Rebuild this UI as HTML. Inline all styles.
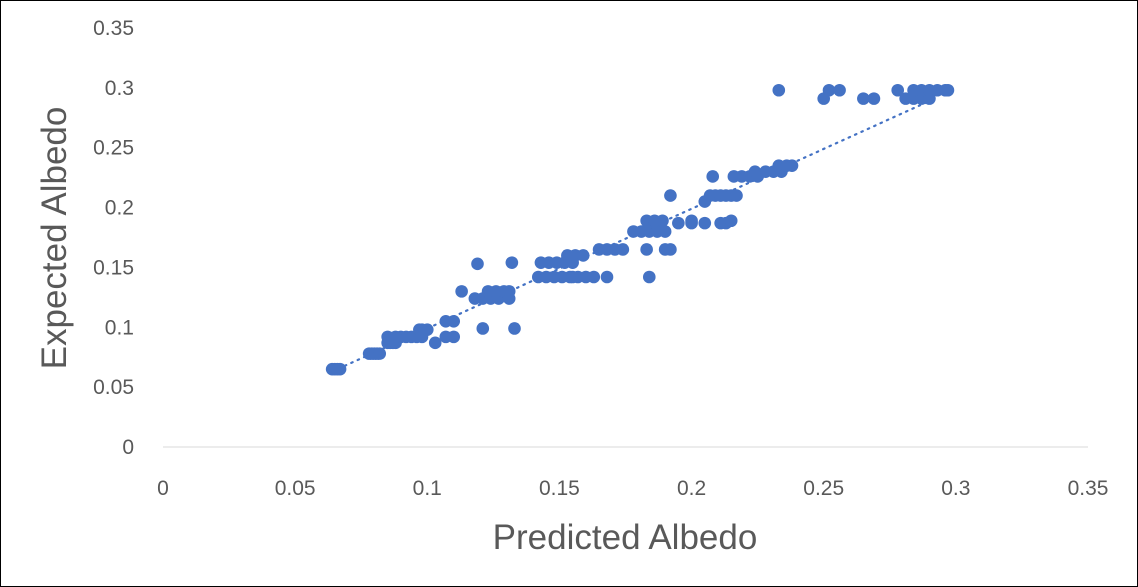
<!DOCTYPE html>
<html><head><meta charset="utf-8"><style>
body{margin:0;background:#fff}
svg{display:block;font-family:"Liberation Sans",sans-serif}
</style></head><body>
<svg id="c" width="1138" height="587">
<rect x="0.5" y="0.5" width="1137" height="586" fill="#fff" stroke="#000"/>
</svg>
<script>
const xTicks=[0,0.05,0.1,0.15,0.2,0.25,0.3,0.35];
const yTicks=[0,0.05,0.1,0.15,0.2,0.25,0.3,0.35];
const tickLabels=["0","0.05","0.1","0.15","0.2","0.25","0.3","0.35"];
const predicted=[0.064,0.065,0.066,0.067,0.078,0.079,0.080,0.081,0.082,0.085,0.086,0.087,0.088,0.090,0.092,0.094,0.096,0.098,0.085,0.088,0.097,0.098,0.100,0.103,0.107,0.110,0.107,0.110,0.113,0.119,0.118,0.121,0.124,0.127,0.123,0.126,0.129,0.131,0.121,0.131,0.132,0.133,0.142,0.145,0.148,0.151,0.154,0.157,0.160,0.143,0.146,0.149,0.152,0.155,0.153,0.156,0.159,0.165,0.168,0.171,0.174,0.155,0.163,0.168,0.178,0.181,0.184,0.187,0.190,0.183,0.186,0.189,0.183,0.184,0.190,0.192,0.192,0.195,0.200,0.200,0.205,0.205,0.207,0.209,0.211,0.213,0.215,0.208,0.211,0.213,0.215,0.217,0.216,0.219,0.222,0.225,0.224,0.228,0.231,0.234,0.233,0.236,0.238,0.233,0.250,0.252,0.256,0.265,0.269,0.278,0.281,0.284,0.287,0.290,0.284,0.287,0.290,0.293,0.296,0.297];
const expected=[0.065,0.065,0.065,0.065,0.078,0.078,0.078,0.078,0.078,0.087,0.087,0.087,0.087,0.092,0.092,0.092,0.092,0.092,0.092,0.092,0.098,0.098,0.098,0.087,0.092,0.092,0.105,0.105,0.130,0.153,0.124,0.124,0.124,0.124,0.130,0.130,0.130,0.124,0.099,0.130,0.154,0.099,0.142,0.142,0.142,0.142,0.142,0.142,0.142,0.154,0.154,0.154,0.154,0.154,0.160,0.160,0.160,0.165,0.165,0.165,0.165,0.142,0.142,0.142,0.180,0.180,0.180,0.180,0.180,0.189,0.189,0.189,0.165,0.142,0.165,0.165,0.210,0.187,0.187,0.189,0.205,0.187,0.210,0.210,0.210,0.210,0.210,0.226,0.187,0.187,0.189,0.210,0.226,0.226,0.226,0.226,0.230,0.230,0.230,0.230,0.235,0.235,0.235,0.298,0.291,0.298,0.298,0.291,0.291,0.298,0.291,0.291,0.291,0.291,0.298,0.298,0.298,0.298,0.298,0.298];
const trendX=[0.064,0.293];
const trendSlope=1.0, trendIntercept=-0.001;
const L=163,R=1088,T=28,B=447;
const sx=v=>L+(v/0.35)*(R-L), sy=v=>B-(v/0.35)*(B-T);
const svg=document.getElementById('c'),NS='http://www.w3.org/2000/svg';
function mk(t,a,txt){const e=document.createElementNS(NS,t);for(const k in a)e.setAttribute(k,a[k]);if(txt!=null)e.textContent=txt;svg.appendChild(e);return e;}
let ax=mk('line',{x1:L,y1:B,x2:R,y2:B,stroke:'#d9d9d9','stroke-width':1});


xTicks.forEach((v,i)=>{const t=mk('text',{x:sx(v),y:B+48,'text-anchor':'middle','font-size':21,fill:'#595959'},tickLabels[i]);

});
yTicks.forEach((v,i)=>{const t=mk('text',{x:134,y:sy(v)+7,'text-anchor':'end','font-size':21,fill:'#595959'},tickLabels[i]);

});
const tl=mk('line',{x1:sx(trendX[0]),y1:sy(trendSlope*trendX[0]+trendIntercept),x2:sx(trendX[1]),y2:sy(trendSlope*trendX[1]+trendIntercept),stroke:'#4472c4','stroke-width':2.2,'stroke-dasharray':'1.5 5.5','stroke-linecap':'round'});


predicted.forEach((v,i)=>{const c=mk('circle',{cx:sx(v),cy:sy(expected[i]),r:6.3,fill:'#4472c4'});

});
const xt=mk('text',{x:625,y:549,'text-anchor':'middle','font-size':35,fill:'#595959'},'Predicted Albedo');


const yt=mk('text',{x:0,y:0,'text-anchor':'middle','font-size':35,fill:'#595959',transform:'translate(66,238) rotate(-90)'},'Expected Albedo');


</script>
</body></html>
